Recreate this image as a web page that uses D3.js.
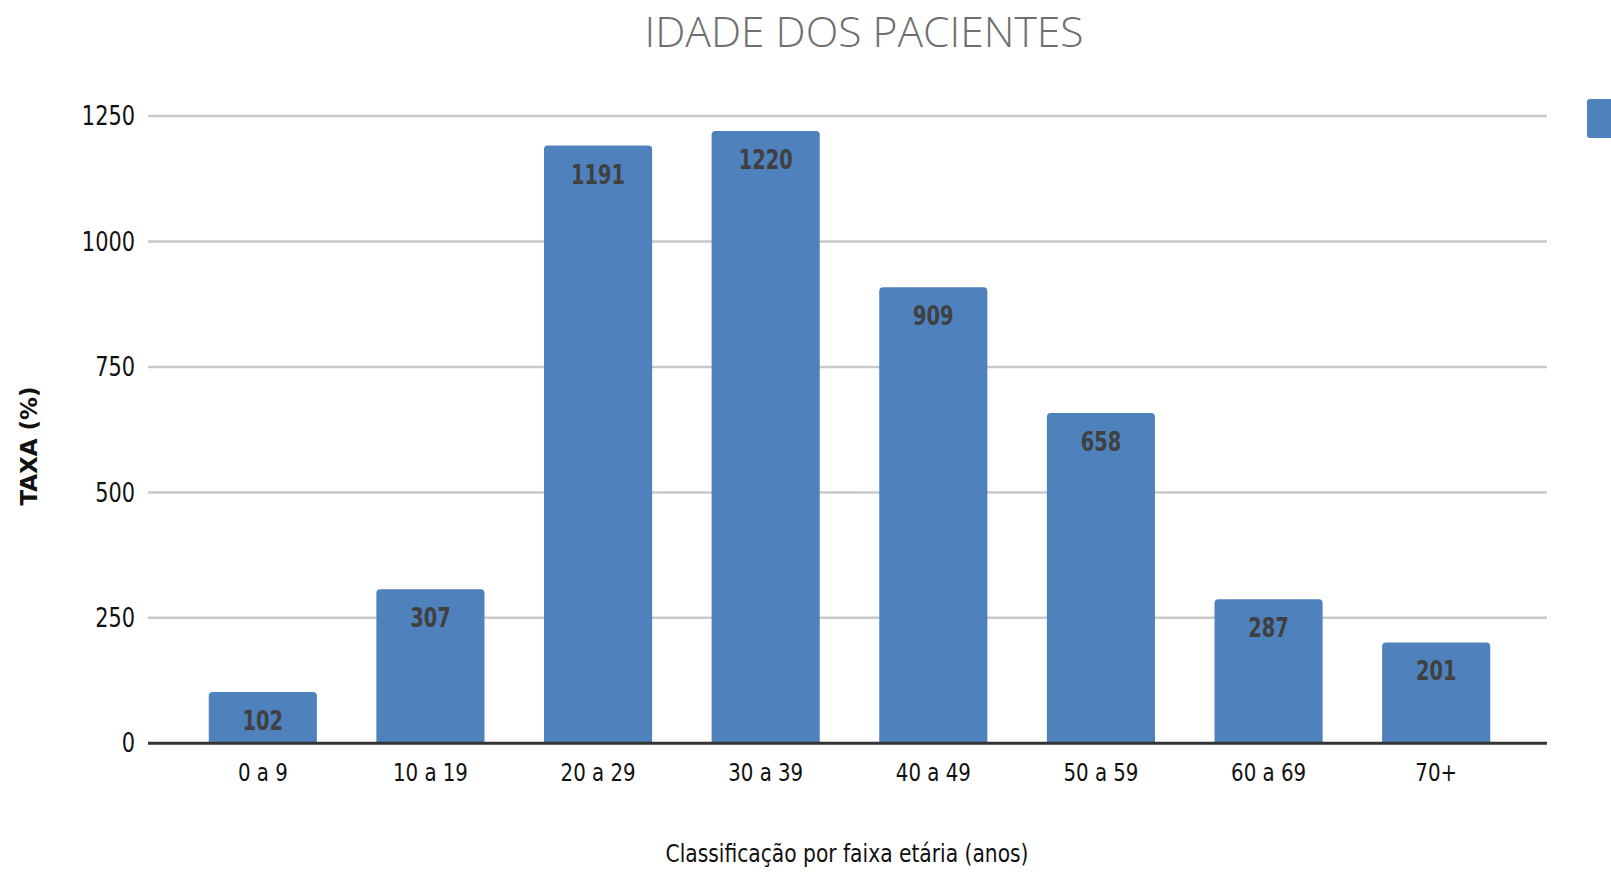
<!DOCTYPE html>
<html>
<head>
<meta charset="utf-8">
<script src="https://cdn.jsdelivr.net/npm/d3@7"></script>
<style>
  body { margin: 0; background: #fff; }
  svg { display: block; }
  text { font-family: "DejaVu Sans Condensed", "Liberation Sans", sans-serif; }
</style>
</head>
<body>
<div id="chart"></div>
<script>
// data
const categories = ["0 a 9", "10 a 19", "20 a 29", "30 a 39", "40 a 49", "50 a 59", "60 a 69", "70+"]
const values = [102, 307, 1191, 1220, 909, 658, 287, 201]
const yTicks = [0, 250, 500, 750, 1000, 1250]
const series = ["Pacientes"]

const width = 1611, height = 872
const barColor = "#4f81bd"
const narrow = 0.86 // the source font is narrower than DejaVu

const svg = d3.select("#chart").append("svg")
    .attr("width", width)
    .attr("height", height)

const x = d3.scaleBand()
    .domain(categories)
    .range([179, 1520])
    .paddingInner(0.355)
    .paddingOuter(0.1775)

const y = d3.scaleLinear()
    .domain([0, 1250])
    .range([743.3, 116])

// gridlines
svg.append("g")
    .selectAll("line")
    .data(yTicks.filter(d => d > 0))
    .enter()
    .append("line")
        .attr("x1", 148)
        .attr("x2", 1547)
        .attr("y1", d => y(d))
        .attr("y2", d => y(d))
        .attr("stroke", "#c9c9c9")
        .attr("stroke-width", 2.5)

// y axis labels
const yAxis = svg.append("g")
    .attr("transform", "translate(148,0)")
    .call(d3.axisLeft(y).tickValues(yTicks).tickFormat(d3.format("d")).tickSize(0).tickPadding(13))
yAxis.select(".domain").remove()
yAxis.selectAll("text")
    .attr("font-size", 27)
    .attr("fill", "#111")
    .attr("font-family", null)
    .attr("x", -13 / narrow)
    .attr("transform", `scale(${narrow},1)`)

// bars with slightly rounded tops
const r = 4
svg.append("g")
    .selectAll("path")
    .data(values)
    .enter()
    .append("path")
        .attr("fill", barColor)
        .attr("d", (d, i) => {
            const x0 = x(categories[i]), w = x.bandwidth()
            const top = y(d), base = y(0)
            return `M${x0},${base}V${top + r}Q${x0},${top} ${x0 + r},${top}H${x0 + w - r}Q${x0 + w},${top} ${x0 + w},${top + r}V${base}Z`
        })

// value labels
svg.append("g")
    .selectAll("text")
    .data(values)
    .enter()
    .append("text")
        .attr("transform", (d, i) => `translate(${x(categories[i]) + x.bandwidth() / 2},${y(d) + 38}) scale(0.8,1)`)
        .attr("text-anchor", "middle")
        .attr("font-size", 27)
        .attr("font-weight", "bold")
        .attr("fill", "#404040")
        .text(d => d)

// baseline
svg.append("line")
    .attr("x1", 148)
    .attr("x2", 1547)
    .attr("y1", y(0))
    .attr("y2", y(0))
    .attr("stroke", "#333")
    .attr("stroke-width", 3)

// x axis labels
const xAxis = svg.append("g")
    .attr("transform", "translate(0," + y(0) + ")")
    .call(d3.axisBottom(x).tickSize(0).tickPadding(20))
xAxis.select(".domain").remove()
xAxis.selectAll("text")
    .attr("font-size", 25)
    .attr("fill", "#111")
    .attr("font-family", null)
    .attr("transform", "scale(0.88,1)")

// title (light weight)
svg.append("text")
    .attr("x", 864)
    .attr("y", 47)
    .attr("text-anchor", "middle")
    .style("font-family", "'Open Sans', 'DejaVu Sans Condensed', sans-serif")
    .attr("font-weight", 300)
    .attr("font-size", 42)
    .attr("fill", "#6f6f6f")
    .attr("textLength", 439)
    .attr("lengthAdjust", "spacingAndGlyphs")
    .text("IDADE DOS PACIENTES")

// axis titles
svg.append("text")
    .attr("transform", "translate(37,446) rotate(-90)")
    .attr("text-anchor", "middle")
    .attr("font-size", 23)
    .attr("font-weight", "bold")
    .attr("fill", "#111")
    .attr("textLength", 119)
    .attr("lengthAdjust", "spacingAndGlyphs")
    .text("TAXA (%)")

svg.append("text")
    .attr("x", 847)
    .attr("y", 862)
    .attr("text-anchor", "middle")
    .attr("font-size", 25)
    .attr("fill", "#111")
    .attr("textLength", 363)
    .attr("lengthAdjust", "spacingAndGlyphs")
    .text("Classificação por faixa etária (anos)")

// legend swatch, cut off at the right edge
svg.append("g")
    .selectAll("rect")
    .data(series)
    .enter()
    .append("rect")
        .attr("x", 1587)
        .attr("y", (d, i) => 99 + i * 50)
        .attr("width", 40)
        .attr("height", 39)
        .attr("rx", 3)
        .attr("fill", barColor)
</script>
</body>
</html>
